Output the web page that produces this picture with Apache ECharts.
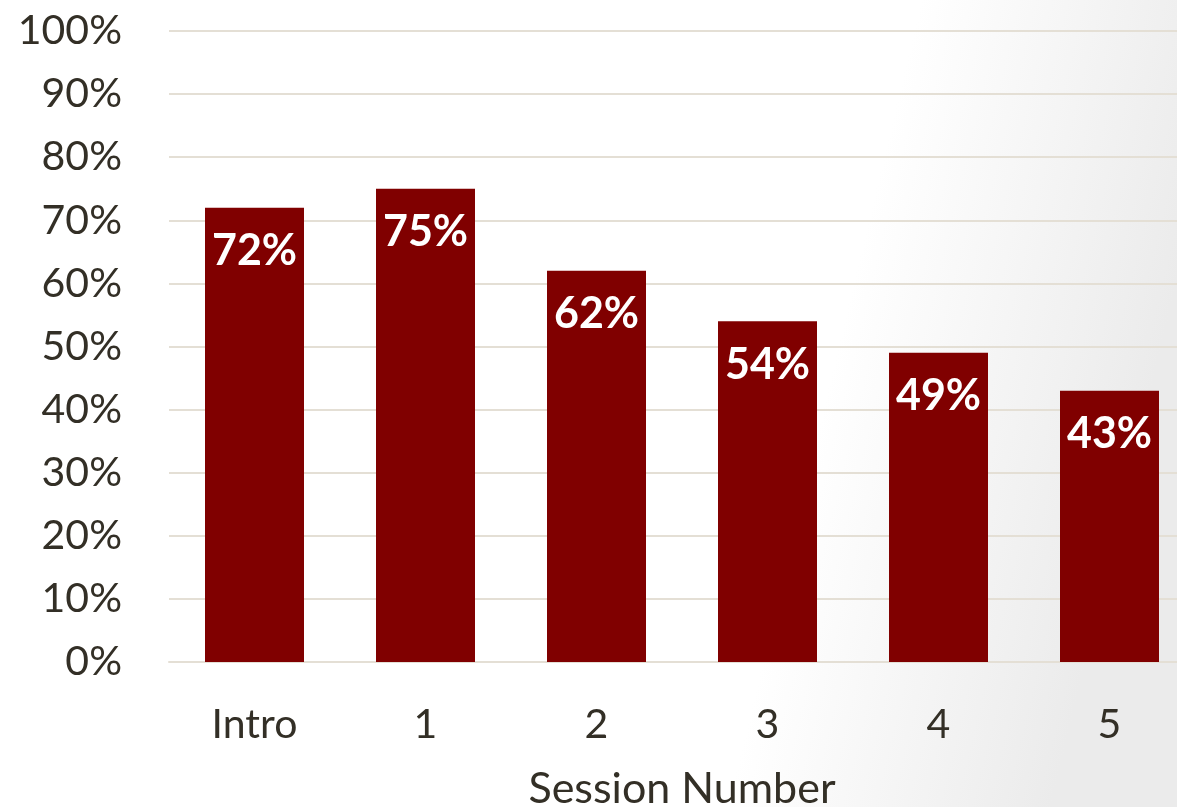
<!DOCTYPE html>
<html><head><meta charset="utf-8">
<script src="https://cdn.jsdelivr.net/npm/echarts@6/dist/echarts.min.js"></script>
<style>html,body{margin:0;padding:0;width:1177px;height:807px;overflow:hidden;}#c{width:1177px;height:807px;}</style>
</head><body><div id="c"></div>
<script>
const categories = ['Intro', '1', '2', '3', '4', '5'];
const values = [72, 75, 62, 54, 49, 43];
const yTicks = [0, 10, 20, 30, 40, 50, 60, 70, 80, 90, 100];

const chart = echarts.init(document.getElementById('c'), null, {renderer: 'canvas'});
const txt = '#332f26';
chart.setOption({
  backgroundColor: {
    type: 'linear', x: 0, y: 0, x2: 1, y2: 0.35,
    colorStops: [{offset: 0, color: '#ffffff'}, {offset: 0.74, color: '#ffffff'}, {offset: 1, color: '#ebebeb'}]
  },
  textStyle: {fontFamily: 'Lato'},
  grid: {left: 169, top: 31, width: 1026, height: 631, containLabel: false, outerBoundsMode: 'none'},
  xAxis: {
    type: 'category', data: categories,
    axisLine: {show: true, lineStyle: {color: '#e4dfd5', width: 2}},
    axisTick: {show: false},
    axisLabel: {color: txt, fontSize: 41, margin: 42, fontFamily: 'Lato'},
    name: 'Session Number', nameLocation: 'middle', nameGap: 106,
    nameTextStyle: {color: txt, fontSize: 43, fontFamily: 'Lato'}
  },
  yAxis: {
    type: 'value', min: 0, max: 100, interval: 10,
    axisLine: {show: false}, axisTick: {show: false},
    splitLine: {lineStyle: {color: '#e4dfd5', width: 2}},
    axisLabel: {color: txt, fontSize: 41, margin: 47, fontFamily: 'Lato',
      formatter: v => yTicks.includes(v) ? v + '%' : ''}
  },
  series: [{
    type: 'bar', data: values, barWidth: 99,
    itemStyle: {color: '#800000'},
    label: {show: true, position: 'insideTop', distance: 22, color: '#ffffff',
      fontSize: 43, fontWeight: 'bold', fontFamily: 'Lato', formatter: p => p.value + '%'}
  }]
});
</script></body></html>
